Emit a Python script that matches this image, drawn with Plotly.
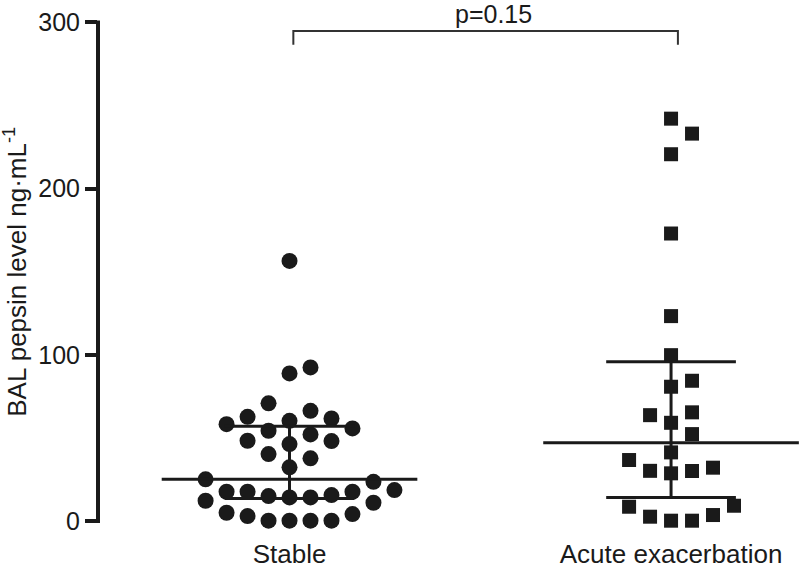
import plotly.graph_objects as go

# ---------------- data ----------------
categories = ["Stable", "Acute exacerbation"]
stable_values = [0.2, 0.2, 0.2, 0.2, 3.0, 4.2, 5.0, 11.0, 12.2, 14.2, 14.2, 15.0, 15.6,
                 17.6, 17.6, 17.6, 18.6, 23.6, 25.1, 32.3, 37.7, 40.3, 46.3, 48.1, 48.3,
                 52.1, 54.3, 55.7, 58.3, 60.3, 61.7, 62.7, 66.3, 70.8, 88.8, 92.4, 156.5]
acute_values = [0.2, 0.2, 2.6, 3.6, 8.6, 9.2, 28.7, 30.1, 30.2, 32.1, 36.7, 41.3, 52.3,
                59.1, 63.7, 65.4, 80.8, 84.4, 99.8, 123.3, 173.0, 220.7, 233.1, 242.1]
medians = [25.1, 47.1]
q1 = [13.6, 14.2]
q3 = [57.1, 95.8]
y_ticks = [0, 100, 200, 300]
p_text = "p=0.15"

# ---------------- layout helpers ----------------
INK = "#1a1a1a"
SLOT = 0.055      # horizontal spacing between neighbouring points (x units)
ROW_H = 12.5      # vertical collision height (data units)


def swarm(values, centre):
    """Greedy Prism-like placement on discrete horizontal slots."""
    placed = []  # (slot, value)
    xs = []
    order = [0]
    for k in range(1, 30):
        order += [k, -k]
    for v in sorted(values):
        for s in order:
            if all(not (ps == s and abs(pv - v) < ROW_H) for ps, pv in placed):
                placed.append((s, v))
                xs.append(centre + s * SLOT)
                break
    return xs, sorted(values)


fig = go.Figure()

sx, sy = swarm(stable_values, 0)
ax, ay = swarm(acute_values, 1)

fig.add_trace(go.Scatter(x=sx, y=sy, mode="markers", cliponaxis=False,
                         marker=dict(symbol="circle", size=16, color=INK,
                                     line=dict(width=0)),
                         name=categories[0], showlegend=False))
fig.add_trace(go.Scatter(x=ax, y=ay, mode="markers", cliponaxis=False,
                         marker=dict(symbol="square", size=14, color=INK,
                                     line=dict(width=0)),
                         name=categories[1], showlegend=False))

# median and interquartile lines
MED_HW = 0.335
IQR_HW = 0.17
lx, ly = [], []
for i in range(len(categories)):
    lx += [i - MED_HW, i + MED_HW, None]
    ly += [medians[i], medians[i], None]
    lx += [i - IQR_HW, i + IQR_HW, None]
    ly += [q1[i], q1[i], None]
    lx += [i - IQR_HW, i + IQR_HW, None]
    ly += [q3[i], q3[i], None]
    lx += [i, i, None]
    ly += [q1[i], q3[i], None]
fig.add_trace(go.Scatter(x=lx, y=ly, mode="lines", cliponaxis=False,
                         line=dict(color=INK, width=3), showlegend=False,
                         hoverinfo="skip"))

# significance bracket
fig.add_trace(go.Scatter(x=[0.01, 0.01, 1.018, 1.018], y=[286.5, 294.9, 294.9, 286.5],
                         mode="lines", cliponaxis=False,
                         line=dict(color="#333333", width=2), showlegend=False,
                         hoverinfo="skip"))
fig.add_annotation(x=0.534, y=305.0, text=p_text, showarrow=False,
                   font=dict(size=25, color=INK), xanchor="center", yanchor="middle")

# y-axis line (only from 0 to 300)
fig.add_shape(type="line", xref="paper", yref="y", x0=0, x1=0, y0=-1.2, y1=301.2,
              line=dict(color=INK, width=4))

# y-axis title
fig.add_annotation(xref="paper", yref="y", x=0, y=150, xshift=-82,
                   text="BAL pepsin level ng·mL<sup>-1</sup>", textangle=-90,
                   showarrow=False, font=dict(size=26, color=INK),
                   xanchor="center", yanchor="middle")

fig.update_layout(
    width=800, height=567,
    margin=dict(l=98, r=0, t=0, b=37, autoexpand=False),
    paper_bgcolor="white", plot_bgcolor="white",
    font=dict(family="Liberation Sans, Arial, sans-serif", color=INK),
    showlegend=False,
    xaxis=dict(range=[-0.502, 1.338], tickvals=[0, 1], ticktext=categories,
               showgrid=False, zeroline=False, showline=False, ticks="",
               ticklabelstandoff=6, automargin=False,
               tickfont=dict(size=26, color=INK)),
    yaxis=dict(range=[-5.4, 313.5], tickvals=y_ticks, showgrid=False, zeroline=False,
               showline=False, ticks="outside", ticklen=12, tickwidth=4,
               automargin=False,
               tickcolor=INK, tickfont=dict(size=25, color=INK)),
)

fig.write_html(
    "out.html",
    config={"displayModeBar": False, "responsive": False},
    post_script=("document.documentElement.style.margin='0';"
                 "document.documentElement.style.overflow='hidden';"
                 "document.body.style.margin='0';"
                 "document.body.style.padding='0';"
                 "document.body.style.overflow='hidden';"),
)
